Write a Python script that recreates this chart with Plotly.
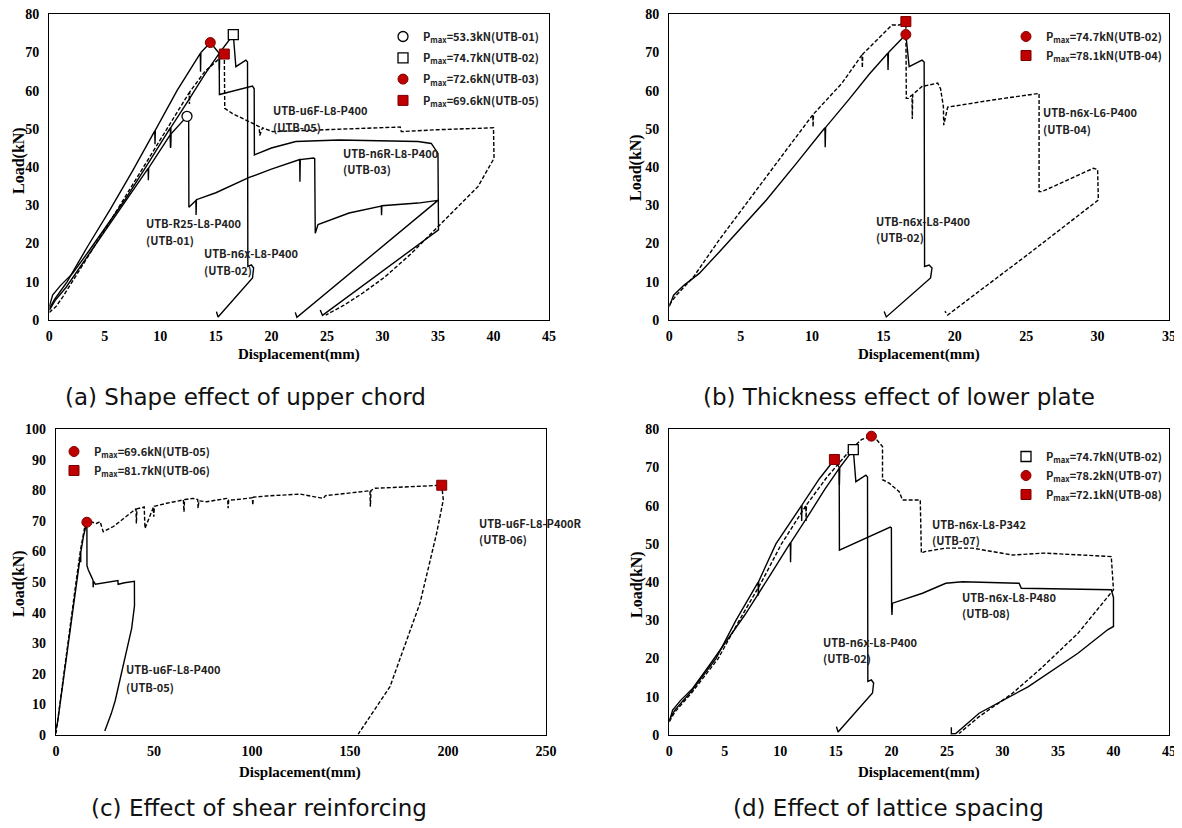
import plotly.graph_objects as go

# ---------------- data (displacement mm, load kN) ----------------
utb01 = [(0, 2.5), (0.5, 5.0), (1.5, 8.5), (3.5, 17.0), (5.5, 25.5), (7.5, 33.8), (8.9, 39.7), (8.92, 36.6),
         (8.95, 39.8), (10.9, 48.5), (10.92, 45.0), (10.95, 48.7), (12.4, 53.3), (12.55, 53.0), (12.57, 29.5),
         (13.2, 31.3), (13.22, 27.5), (13.25, 31.5), (15.0, 33.3), (18.0, 37.3), (20.0, 39.5), (22.2, 41.8),
         (22.55, 42.0), (22.57, 36.2), (22.6, 42.0), (23.8, 42.4), (23.9, 42.2), (23.95, 22.7), (24.2, 25.0),
         (27.0, 28.0), (29.9, 29.8), (29.92, 27.4), (29.95, 29.9), (33.2, 30.6), (34.7, 31.2), (35.0, 31.3),
         (22.3, 0.7), (22.15, 2.0)]

utb02 = [(0, 3.5), (0.3, 6.5), (1.0, 9.0), (2.1, 12.2), (3.5, 17.8), (4.9, 23.6), (6.8, 31.4), (8.9, 41.0),
         (10.9, 50.3), (10.92, 45.2), (10.95, 50.4), (12.6, 57.8), (14.0, 64.3), (15.3, 69.8), (15.32, 65.4),
         (15.35, 70.0), (16.57, 74.7), (16.65, 72.0), (16.8, 66.3), (17.7, 68.0), (17.85, 67.5), (17.88, 14.0),
         (18.2, 14.4), (18.4, 13.6), (18.3, 11.0), (15.2, 0.8), (15.05, 2.2)]

utb03 = [(0, 3.0), (0.5, 5.5), (1.6, 10.0), (3.5, 19.5), (5.5, 29.0), (7.5, 39.0), (9.5, 49.5), (9.52, 46.0),
         (9.55, 49.7), (11.5, 60.0), (13.6, 69.8), (13.62, 65.0), (13.65, 70.0), (14.5, 72.6), (15.3, 69.8),
         (15.32, 59.0), (18.3, 61.2), (18.45, 60.5), (18.47, 43.2), (20.0, 45.0), (22.2, 46.7), (26.1, 47.1),
         (30.0, 46.9), (33.2, 46.7), (34.4, 46.2), (35.0, 43.6), (35.05, 23.6), (24.6, 1.2), (24.4, 2.6)]

utb04 = [(0, 4.0), (0.5, 6.5), (1.7, 11.3), (3.5, 21.0), (5.0, 28.5), (6.3, 34.9), (8.2, 44.5), (10.05, 53.7),
         (10.07, 50.5), (10.1, 53.9), (12.1, 62.0), (13.5, 69.4), (13.52, 66.0), (13.55, 69.6), (15.6, 77.2),
         (16.1, 77.2), (16.57, 78.1), (16.6, 58.0), (16.75, 58.0), (17.0, 58.9), (17.02, 52.6), (17.05, 59.0),
         (17.7, 61.1), (18.8, 62.0), (19.0, 60.5), (19.2, 55.8), (19.22, 51.0), (19.5, 55.7), (22.5, 57.5),
         (25.75, 59.3), (25.9, 59.3), (25.9, 33.6), (26.1, 33.6), (28.0, 36.8), (29.7, 39.7), (30.0, 39.4),
         (30.05, 31.4), (25.2, 17.4), (19.5, 1.3), (19.3, 2.3)]

utb05 = [(0, 2.0), (0.6, 3.5), (1.2, 6.0), (2.0, 9.8), (4.0, 19.0), (6.0, 28.3), (8.0, 37.8), (10.0, 47.3),
         (12.6, 59.5), (12.62, 56.5), (12.65, 59.7), (14.0, 65.0), (15.76, 69.6), (15.8, 55.4), (16.5, 54.0),
         (18.0, 51.9), (18.9, 50.6), (18.95, 48.3), (19.2, 50.3), (20.1, 49.3), (22.0, 49.5), (25.0, 49.8),
         (28.0, 50.1), (31.6, 50.5), (31.7, 49.3), (35.0, 49.8), (40.0, 50.3), (40.05, 42.3), (38.6, 34.9),
         (35.5, 26.0), (32.6, 17.4), (30.2, 11.2), (28.2, 7.0), (26.5, 3.8), (24.9, 1.3)]

utb06 = [(0, 0.5), (5, 25.5), (10, 49.0), (12.5, 60.5), (14.5, 67.5), (17.3, 69.8), (20.7, 69.2), (22.5, 69.8),
         (24.1, 66.5), (29.3, 68.2), (39.5, 73.6), (40.8, 74.0), (41.0, 69.2), (41.3, 74.0), (44.6, 74.5),
         (45.0, 74.6), (45.4, 67.6), (49.7, 74.5), (49.9, 71.4), (50.2, 74.8), (56.5, 75.8), (65.0, 76.9),
         (65.3, 73.0), (65.6, 77.0), (70.0, 77.4), (72.3, 77.0), (72.5, 74.2), (72.9, 76.6), (76.9, 76.3),
         (87.1, 77.4), (87.6, 77.0), (87.8, 74.2), (88.1, 76.8), (90.5, 76.9), (100.2, 77.6), (100.4, 75.2),
         (100.7, 77.8), (107.5, 78.2), (124.5, 78.8), (136.4, 77.4), (137.5, 78.3), (160.2, 79.9),
         (160.4, 74.7), (160.7, 80.0), (162.8, 80.7), (194.2, 81.6), (196.8, 81.7), (197.6, 76.9),
         (194.2, 66.0), (185.7, 43.1), (170.4, 15.8), (154.2, 0.3)]

utb07 = [(0, 3.5), (0.5, 6.0), (2.0, 11.0), (4.4, 20.0), (6.3, 30.0), (8.3, 40.0), (10.1, 50.0), (12.3, 60.0),
         (12.32, 56.0), (12.35, 60.2), (14.2, 67.5), (16.4, 74.9), (17.3, 77.3), (18.2, 78.2), (18.7, 77.2),
         (19.2, 75.5), (19.2, 66.8), (19.8, 65.9), (20.7, 63.7), (21.0, 61.5), (22.6, 61.5), (22.7, 47.6),
         (23.0, 48.0), (24.9, 48.9), (27.3, 48.9), (30.9, 47.1), (33.8, 47.6), (39.8, 46.7), (40.0, 38.0),
         (36.8, 26.6), (33.5, 17.5), (30.9, 10.9), (27.9, 4.8), (26.1, 0.4)]

utb08 = [(0, 4.0), (0.5, 6.5), (2.0, 11.5), (4.2, 20.0), (6.0, 30.0), (8.0, 40.0), (8.02, 36.5), (8.05, 40.2),
         (9.6, 50.0), (11.9, 60.0), (11.92, 56.0), (11.95, 60.2), (13.5, 67.0), (14.87, 72.1), (15.3, 70.0),
         (15.32, 48.4), (19.9, 54.4), (20.0, 54.2), (20.02, 33.6), (20.05, 31.4), (20.1, 34.5), (22.8, 37.1),
         (24.9, 39.7), (26.4, 40.1), (31.5, 39.7), (31.7, 38.4), (39.8, 38.0), (40.0, 36.0), (40.0, 28.4),
         (39.5, 27.6), (36.8, 21.4), (32.3, 12.6), (27.9, 5.7), (25.8, 0.4), (25.4, 0.3), (25.4, 2.0)]

# peak loads (legend values) and the displacement at which they occur
peak_names_a = ["UTB-01", "UTB-02", "UTB-03", "UTB-05"]
peak_disp_a = [12.4, 16.57, 14.5, 15.76]
peak_load_a = [53.3, 74.7, 72.6, 69.6]
peak_names_b = ["UTB-02", "UTB-04"]
peak_disp_b = [16.57, 16.57]
peak_load_b = [74.7, 78.1]
peak_names_c = ["UTB-05", "UTB-06"]
peak_disp_c = [15.76, 196.8]
peak_load_c = [69.6, 81.7]
peak_names_d = ["UTB-02", "UTB-07", "UTB-08"]
peak_disp_d = [16.57, 18.2, 14.87]
peak_load_d = [74.7, 78.2, 72.1]

captions = ["(a) Shape effect of upper chord", "(b) Thickness effect of lower plate",
            "(c) Effect of shear reinforcing", "(d) Effect of lattice spacing"]

# ---------------- styling ----------------
W, H = 1182, 828
OFF = 8  # the page body adds an 8 px margin; positions below are window pixels
RED = "#C00000"
MARKERS = {
    "open_circle": dict(symbol="circle", color="white", line=dict(color="black", width=1.3)),
    "open_square": dict(symbol="square", color="white", line=dict(color="black", width=1.3)),
    "red_circle": dict(symbol="circle", color=RED, line=dict(color="#7a0000", width=1)),
    "red_square": dict(symbol="square", color=RED, line=dict(color="#7a0000", width=1)),
}
LABEL_FONT = dict(family="Noto Sans CJK KR", size=11, color="#222222", weight="bold")
TICK_FONT = dict(family="Liberation Serif", size=14, color="black", weight="bold")
TITLE_FONT = dict(family="Liberation Serif", size=15, color="black", weight="bold")


def px_x(p):
    return (p - OFF) / W


def px_y(p):
    return 1 - (p - OFF) / H


fig = go.Figure()

panels = [
    dict(s="", xr=[0, 45], yr=[0, 80], dx=5, dy=10, dom=(49.3, 549, 14.3, 320),
         curves=[(utb01, False), (utb02, False), (utb03, False), (utb05, True)],
         peaks=(peak_names_a, peak_disp_a, peak_load_a, ["open_circle", "open_square", "red_circle", "red_square"]),
         legend="legend", leg=(383, 22), gap=2.3),
    dict(s="2", xr=[0, 35], yr=[0, 80], dx=5, dy=10, dom=(669.3, 1169, 14.3, 320),
         curves=[(utb02, False), (utb04, True)],
         peaks=(peak_names_b, peak_disp_b, peak_load_b, ["red_circle", "red_square"]),
         legend="legend2", leg=(1006, 22), gap=0),
    dict(s="3", xr=[0, 250], yr=[0, 100], dx=50, dy=10, dom=(56, 546, 429.3, 735),
         curves=[(utb05, False), (utb06, True)],
         peaks=(peak_names_c, peak_disp_c, peak_load_c, ["red_circle", "red_square"]),
         legend="legend3", leg=(54, 437), gap=0),
    dict(s="4", xr=[0, 45], yr=[0, 80], dx=5, dy=10, dom=(669.3, 1169, 429.3, 735),
         curves=[(utb02, False), (utb07, True), (utb08, False)],
         peaks=(peak_names_d, peak_disp_d, peak_load_d, ["open_square", "red_circle", "red_square"]),
         legend="legend4", leg=(1006, 442), gap=0),
]

layout_axes = {}
legends = {}
for i, p in enumerate(panels):
    xa, ya = "x" + p["s"], "y" + p["s"]
    for pts, dashed in p["curves"]:
        fig.add_trace(go.Scatter(
            x=[q[0] for q in pts], y=[q[1] for q in pts], xaxis=xa, yaxis=ya, mode="lines",
            line=dict(color="black", width=1.4, dash="4px,2px" if dashed else "solid"),
            showlegend=False, hoverinfo="skip"))
    names, dxs, lds, styles = p["peaks"]
    for k, (nm, dv, lv, st) in enumerate(zip(names, dxs, lds, styles)):
        m = MARKERS[st]
        fig.add_trace(go.Scatter(
            x=[dv], y=[lv], xaxis=xa, yaxis=ya, mode="markers", cliponaxis=False,
            marker=dict(symbol=m["symbol"], size=10, color=m["color"], line=m["line"]),
            name="P<sub>max</sub>=%.1fkN(%s)" % (lv, nm), legend=p["legend"],
            legendgroup="%s_%d" % (p["legend"], k), showlegend=True))
    l, r, t, b = p["dom"]
    common = dict(showline=True, linecolor="black", linewidth=1.3, mirror=True, showgrid=False,
                  zeroline=False, ticks="", tickfont=TICK_FONT, fixedrange=True, automargin=False,
                  ticklabeloverflow="allow")
    layout_axes["xaxis" + p["s"]] = dict(common, domain=[px_x(l), px_x(r)], range=p["xr"], dtick=p["dx"],
                                         tick0=0, anchor=ya, ticklabelstandoff=3)
    layout_axes["yaxis" + p["s"]] = dict(common, domain=[px_y(b), px_y(t)], range=p["yr"], dtick=p["dy"],
                                         tick0=0, anchor=xa, ticklabelstandoff=6)
    lx, ly = p["leg"]
    legends[p["legend"]] = dict(x=px_x(lx), y=px_y(ly), xanchor="left", yanchor="top",
                                bgcolor="rgba(0,0,0,0)", borderwidth=0,
                                font=dict(family="Noto Sans CJK KR", size=11, color="#222222", weight="bold"),
                                tracegroupgap=p["gap"], itemclick=False, itemdoubleclick=False)

annotations = []


def label(text, xref, yref, x, y):
    annotations.append(dict(text=text, xref=xref, yref=yref, x=x, y=y, xanchor="left", yanchor="middle",
                            showarrow=False, font=LABEL_FONT))


# curve labels (two lines each)
for xr_, yr_, x, y1, y2, t1, t2 in [
    ("x", "y", 20.0, 55.0, 50.6, "UTB-u6F-L8-P400", "(UTB-05)"),
    ("x", "y", 26.3, 43.8, 39.5, "UTB-n6R-L8-P400", "(UTB-03)"),
    ("x", "y", 8.5, 25.4, 20.9, "UTB-R25-L8-P400", "(UTB-01)"),
    ("x", "y", 13.75, 17.5, 13.1, "UTB-n6x-L8-P400", "(UTB-02)"),
    ("x2", "y2", 26.06, 54.5, 50.0, "UTB-n6x-L6-P400", "(UTB-04)"),
    ("x2", "y2", 14.35, 25.9, 21.7, "UTB-n6x-L8-P400", "(UTB-02)"),
    ("x3", "y3", 34.7, 21.6, 15.7, "UTB-u6F-L8-P400", "(UTB-05)"),
    ("x3", "y3", 214.6, 69.4, 64.1, "UTB-u6F-L8-P400R", "(UTB-06)"),
    ("x4", "y4", 23.5, 55.2, 51.0, "UTB-n6x-L8-P342", "(UTB-07)"),
    ("x4", "y4", 26.2, 36.2, 32.0, "UTB-n6x-L8-P480", "(UTB-08)"),
    ("x4", "y4", 13.7, 24.4, 20.2, "UTB-n6x-L8-P400", "(UTB-02)"),
]:
    label(t1, xr_, yr_, x, y1)
    label(t2, xr_, yr_, x, y2)

# axis titles
for cx, cy in [(299, 354), (919, 354), (300, 772), (919, 772)]:
    annotations.append(dict(text="Displacement(mm)", xref="paper", yref="paper", x=px_x(cx), y=px_y(cy),
                            xanchor="center", yanchor="middle", showarrow=False, font=TITLE_FONT))
for cx, cy in [(19, 161), (636, 168), (19, 584), (637, 584)]:
    annotations.append(dict(text="Load(kN)", xref="paper", yref="paper", x=px_x(cx), y=px_y(cy),
                            xanchor="center", yanchor="middle", showarrow=False, textangle=-90,
                            font=dict(TITLE_FONT, size=16)))

# captions
for txt, cx, cy in zip(captions, [245, 899, 259, 888], [397, 397, 808, 808]):
    annotations.append(dict(text=txt, xref="paper", yref="paper", x=px_x(cx), y=px_y(cy),
                            xanchor="center", yanchor="middle", showarrow=False,
                            font=dict(family="DejaVu Sans", size=23, color="#111111")))

fig.update_layout(template="none", width=W, height=H, margin=dict(l=0, r=0, t=0, b=0, autoexpand=False),
                  paper_bgcolor="white", plot_bgcolor="white", showlegend=True,
                  annotations=annotations, **layout_axes, **legends)

fig.write_html("out.html")
